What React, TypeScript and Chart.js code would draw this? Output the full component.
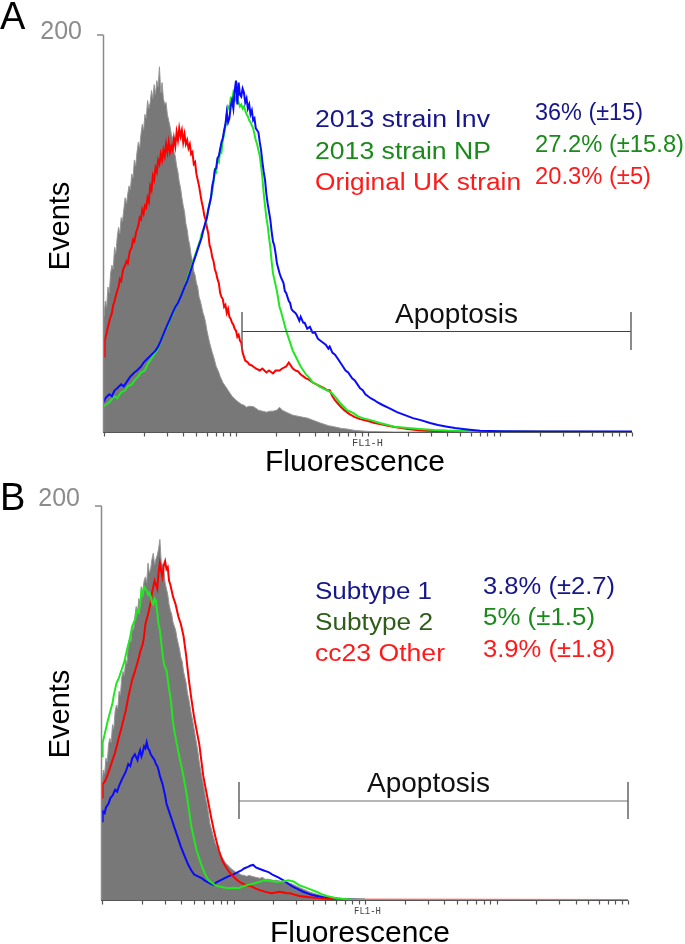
import React, { useEffect, useRef } from "react";
import { Chart, registerables } from "chart.js";

Chart.register(...registerables);

type Pt = [number, number];

// x = position on the FL1-H log axis in decades (0 -> 10^0 ... 4 -> 10^4), y = events
const grayA: Pt[] = [
  [0, 58], [0.01, 66], [0.02, 63], [0.03, 73], [0.04, 70], [0.05, 80], [0.06, 84], [0.07, 82], [0.08, 93],
  [0.09, 90], [0.1, 98], [0.11, 103], [0.12, 100], [0.13, 108], [0.14, 106], [0.15, 112], [0.16, 118],
  [0.17, 115], [0.18, 120], [0.19, 124], [0.2, 122], [0.21, 130], [0.22, 128], [0.23, 137], [0.24, 134],
  [0.25, 141], [0.26, 146], [0.27, 143], [0.28, 150], [0.29, 155], [0.3, 152], [0.31, 160], [0.32, 158],
  [0.33, 167], [0.34, 163], [0.35, 166], [0.36, 172], [0.37, 168], [0.38, 175], [0.39, 170], [0.4, 177],
  [0.41, 174], [0.42, 184], [0.43, 171], [0.44, 176], [0.45, 168], [0.46, 165], [0.47, 166], [0.48, 160],
  [0.49, 157], [0.5, 154], [0.51, 150], [0.52, 148], [0.53, 141], [0.54, 139], [0.55, 134], [0.56, 131],
  [0.57, 126], [0.58, 123], [0.59, 118], [0.6, 114], [0.61, 111], [0.62, 105], [0.63, 102], [0.64, 97],
  [0.65, 94], [0.66, 89], [0.67, 86], [0.68, 81], [0.69, 79], [0.7, 75], [0.71, 73], [0.72, 68], [0.73, 66],
  [0.74, 63], [0.75, 60], [0.76, 58], [0.77, 55], [0.78, 51], [0.79, 48], [0.8, 45], [0.82, 40], [0.83, 38],
  [0.85, 33], [0.87, 30], [0.88, 28], [0.9, 25], [0.92, 23], [0.94, 21], [0.97, 18], [1.0, 16], [1.02, 15],
  [1.04, 14], [1.06, 13.5], [1.08, 12.5], [1.1, 13], [1.13, 12.8], [1.15, 12], [1.17, 11], [1.2, 10.5],
  [1.23, 10], [1.26, 10.5], [1.28, 10.5], [1.31, 11], [1.33, 12.5], [1.35, 11], [1.38, 10], [1.43, 8.5],
  [1.5, 7.5], [1.54, 7], [1.6, 5.5], [1.64, 4.5], [1.7, 3.2], [1.74, 2.7], [1.8, 1.8], [1.84, 1.5],
  [1.9, 0.8], [2.0, 0.3], [2.2, 0], [4, 0],
];
const redA: Pt[] = [
  [0, 38], [0.005, 46], [0.02, 50], [0.03, 53], [0.045, 57], [0.06, 60], [0.07, 64], [0.08, 66], [0.095, 70],
  [0.11, 73], [0.12, 77], [0.13, 76], [0.145, 82], [0.16, 84], [0.17, 86], [0.18, 85], [0.195, 91], [0.21, 93],
  [0.22, 97], [0.23, 96], [0.245, 101], [0.26, 104], [0.27, 108], [0.28, 107], [0.29, 112], [0.3, 110],
  [0.31, 114], [0.32, 113], [0.33, 118], [0.34, 116], [0.35, 124], [0.36, 122], [0.37, 129], [0.38, 127],
  [0.39, 133], [0.4, 131], [0.41, 137], [0.42, 135], [0.43, 140], [0.44, 137], [0.45, 142], [0.46, 139],
  [0.47, 145], [0.48, 141], [0.49, 146], [0.5, 141], [0.51, 144], [0.52, 142], [0.53, 148], [0.54, 144],
  [0.55, 151], [0.56, 147], [0.57, 153], [0.58, 149], [0.59, 152], [0.6, 146], [0.61, 150], [0.62, 145],
  [0.63, 147], [0.64, 143], [0.65, 145], [0.66, 140], [0.67, 141], [0.68, 135], [0.69, 136], [0.7, 130],
  [0.71, 127], [0.72, 124], [0.73, 120], [0.74, 116], [0.75, 113], [0.76, 109], [0.77, 107], [0.78, 103],
  [0.79, 100], [0.8, 94], [0.81, 92], [0.82, 88], [0.83, 86], [0.84, 82], [0.85, 80], [0.86, 77], [0.87, 75],
  [0.88, 70], [0.89, 68], [0.9, 67], [0.91, 63], [0.92, 64], [0.93, 60], [0.94, 62], [0.95, 58], [0.96, 57],
  [0.97, 55], [0.98, 54], [0.99, 52], [1.0, 51], [1.01, 48], [1.02, 49], [1.03, 46], [1.04, 45], [1.05, 40],
  [1.06, 38], [1.07, 36], [1.09, 35], [1.1, 34], [1.12, 33.5], [1.13, 33], [1.15, 32], [1.18, 31], [1.2, 32],
  [1.23, 30], [1.25, 31], [1.28, 29.5], [1.3, 31], [1.33, 31], [1.35, 32], [1.38, 33], [1.4, 35], [1.41, 34],
  [1.43, 32], [1.45, 31], [1.47, 30.5], [1.49, 29], [1.51, 28], [1.53, 27], [1.55, 26.5], [1.58, 25],
  [1.61, 24], [1.64, 23], [1.67, 22], [1.69, 21], [1.71, 21], [1.73, 18], [1.75, 16], [1.77, 14.5],
  [1.79, 13], [1.82, 11], [1.86, 9], [1.9, 7.5], [1.94, 6.5], [2.0, 5.5], [2.05, 4.5], [2.09, 4], [2.15, 3.2],
  [2.2, 2.5], [2.3, 1.5], [2.4, 0.7], [2.6, 0.3], [4, 0],
];
const greenA: Pt[] = [
  [0, 13], [0.04, 15], [0.08, 18], [0.1, 17], [0.13, 20], [0.16, 21], [0.18, 23], [0.21, 24], [0.23, 26],
  [0.26, 28], [0.28, 30], [0.31, 31], [0.33, 34], [0.36, 37], [0.39, 40], [0.41, 42], [0.43, 46], [0.46, 51],
  [0.48, 53], [0.5, 57], [0.52, 59], [0.54, 63], [0.56, 65], [0.58, 68], [0.61, 73], [0.63, 77], [0.66, 83],
  [0.68, 87], [0.71, 93], [0.73, 97], [0.74, 100], [0.76, 103], [0.77, 105], [0.79, 112], [0.8, 115],
  [0.82, 121], [0.83, 126], [0.84, 132], [0.85, 131], [0.86, 137], [0.87, 136], [0.88, 142], [0.89, 141],
  [0.9, 147], [0.91, 150], [0.92, 154], [0.93, 160], [0.94, 164], [0.95, 163], [0.96, 168], [0.97, 167],
  [0.98, 171], [0.99, 169], [1.0, 167], [1.01, 168], [1.02, 166], [1.03, 164], [1.04, 165], [1.05, 163],
  [1.06, 164], [1.07, 162], [1.08, 160], [1.09, 159], [1.1, 157], [1.11, 156], [1.13, 153], [1.14, 150],
  [1.15, 147], [1.16, 145], [1.18, 139], [1.19, 134], [1.2, 128], [1.21, 120], [1.22, 114], [1.23, 108],
  [1.24, 104], [1.25, 98], [1.26, 93], [1.27, 86], [1.28, 80], [1.29, 77], [1.31, 71], [1.32, 67], [1.33, 63],
  [1.34, 61], [1.36, 56], [1.38, 51], [1.41, 45], [1.43, 41], [1.46, 37], [1.49, 33], [1.51, 31], [1.53, 29],
  [1.56, 27], [1.58, 25], [1.61, 24], [1.63, 23], [1.66, 22], [1.69, 21], [1.72, 20], [1.74, 18.5],
  [1.76, 17], [1.79, 14.5], [1.82, 12.5], [1.84, 11], [1.89, 9.5], [1.92, 8], [1.96, 7], [2.02, 6],
  [2.09, 4.5], [2.15, 3.5], [2.2, 2.7], [2.3, 2], [2.39, 1.5], [2.5, 1], [2.6, 0.7], [2.8, 0.4], [3, 0.2],
  [4, 0],
];
const blueA: Pt[] = [
  [0, 15], [0.01, 17], [0.04, 19], [0.06, 18], [0.08, 21], [0.1, 22], [0.13, 24], [0.15, 23], [0.18, 26],
  [0.2, 28], [0.23, 30], [0.25, 31], [0.28, 33], [0.3, 35], [0.33, 37], [0.36, 39], [0.39, 41], [0.41, 43],
  [0.43, 46], [0.46, 51], [0.48, 54], [0.5, 57], [0.52, 60], [0.54, 63], [0.56, 65], [0.58, 68], [0.61, 73],
  [0.63, 76], [0.65, 80], [0.67, 84], [0.69, 88], [0.71, 92], [0.72, 94], [0.74, 98], [0.75, 101],
  [0.77, 106], [0.78, 108], [0.79, 112], [0.81, 118], [0.82, 124], [0.83, 127], [0.84, 132], [0.85, 133],
  [0.86, 138], [0.87, 139], [0.89, 146], [0.9, 148], [0.91, 152], [0.92, 155], [0.93, 161], [0.94, 156],
  [0.95, 158], [0.96, 164], [0.97, 167], [0.98, 163], [0.99, 172], [1.0, 177], [1.01, 165], [1.02, 176],
  [1.03, 170], [1.04, 169], [1.05, 173], [1.06, 171], [1.07, 166], [1.08, 168], [1.09, 163], [1.1, 165],
  [1.11, 160], [1.12, 162], [1.13, 157], [1.14, 158], [1.15, 153], [1.17, 151], [1.18, 146], [1.19, 142],
  [1.2, 136], [1.21, 131], [1.22, 127], [1.23, 120], [1.24, 115], [1.25, 111], [1.26, 107], [1.27, 101],
  [1.28, 96], [1.29, 94], [1.3, 90], [1.31, 85], [1.33, 80], [1.34, 78], [1.36, 75], [1.37, 71], [1.38, 70],
  [1.4, 66], [1.41, 65], [1.42, 62], [1.43, 61], [1.45, 60], [1.46, 59], [1.48, 56], [1.49, 58], [1.51, 55],
  [1.52, 55], [1.54, 52], [1.56, 53], [1.58, 50], [1.6, 50], [1.62, 47], [1.64, 46], [1.66, 45], [1.68, 44],
  [1.7, 42], [1.71, 43], [1.73, 40], [1.75, 39], [1.77, 37], [1.79, 35], [1.81, 33], [1.83, 31], [1.85, 30],
  [1.86, 29], [1.88, 27], [1.9, 26], [1.92, 24], [1.94, 22], [1.96, 21], [1.98, 19], [2.0, 18], [2.02, 17],
  [2.05, 16], [2.07, 15], [2.11, 13.6], [2.16, 12], [2.22, 10], [2.28, 8.5], [2.34, 7], [2.4, 6],
  [2.47, 4.5], [2.53, 3.5], [2.6, 2.7], [2.66, 2], [2.72, 1.5], [2.79, 1], [2.85, 0.6], [3, 0.4],
  [3.3, 0.3], [4, 0.3],
];

const grayB: Pt[] = [
  [0, 58], [0.01, 66], [0.02, 64], [0.03, 72], [0.04, 70], [0.05, 79], [0.06, 82], [0.07, 80], [0.08, 89],
  [0.09, 87], [0.1, 96], [0.11, 99], [0.12, 97], [0.13, 106], [0.14, 104], [0.15, 113], [0.16, 116],
  [0.17, 114], [0.18, 122], [0.19, 120], [0.2, 130], [0.21, 133], [0.22, 131], [0.23, 139], [0.24, 137],
  [0.25, 144], [0.26, 149], [0.27, 146], [0.28, 153], [0.29, 151], [0.3, 159], [0.31, 156], [0.32, 162],
  [0.33, 164], [0.34, 161], [0.35, 171], [0.36, 166], [0.37, 168], [0.38, 173], [0.39, 176], [0.4, 170],
  [0.41, 173], [0.42, 175], [0.43, 178], [0.44, 183], [0.45, 172], [0.46, 170], [0.47, 168], [0.48, 161],
  [0.49, 158], [0.5, 155], [0.51, 150], [0.52, 147], [0.53, 145], [0.54, 141], [0.55, 139], [0.56, 137],
  [0.57, 133], [0.58, 130], [0.59, 127], [0.6, 123], [0.61, 121], [0.62, 116], [0.63, 113], [0.64, 110],
  [0.65, 105], [0.66, 102], [0.67, 98], [0.68, 94], [0.69, 91], [0.7, 87], [0.71, 83], [0.72, 79],
  [0.73, 75], [0.74, 70], [0.75, 66], [0.76, 62], [0.77, 59], [0.78, 55], [0.79, 51], [0.8, 48], [0.81, 44],
  [0.82, 39], [0.84, 34], [0.86, 29], [0.88, 26], [0.9, 23], [0.92, 21], [0.94, 18.6], [0.96, 17.5],
  [0.98, 16], [1.0, 15], [1.02, 14], [1.04, 13.5], [1.06, 12.7], [1.08, 12.5], [1.1, 12], [1.12, 12.5],
  [1.14, 12], [1.17, 11.5], [1.2, 11], [1.22, 11.5], [1.24, 10.5], [1.27, 10.5], [1.3, 10], [1.33, 10],
  [1.36, 9.5], [1.41, 9], [1.45, 8], [1.48, 7], [1.53, 5.5], [1.58, 4], [1.63, 3], [1.68, 2], [1.73, 1.5],
  [1.79, 1], [1.85, 0.5], [1.95, 0.2], [2.05, 0], [4, 0],
];
const blueB: Pt[] = [
  [0, 40], [0.005, 45], [0.02, 44], [0.03, 47], [0.05, 49], [0.065, 52], [0.08, 53], [0.1, 56], [0.115, 55],
  [0.13, 58], [0.15, 61], [0.165, 63], [0.18, 65], [0.2, 69], [0.215, 68], [0.23, 72], [0.25, 74], [0.27, 71],
  [0.28, 74], [0.29, 76], [0.3, 73], [0.31, 75], [0.32, 78], [0.33, 77], [0.34, 80], [0.35, 77], [0.36, 76],
  [0.37, 74], [0.38, 73], [0.39, 72], [0.4, 71], [0.41, 69], [0.42, 68], [0.43, 66], [0.44, 63], [0.45, 61],
  [0.46, 59], [0.48, 53], [0.49, 49], [0.51, 45], [0.53, 41], [0.555, 36], [0.58, 31], [0.6, 27], [0.63, 22],
  [0.655, 18], [0.68, 15], [0.7, 13], [0.73, 12], [0.76, 11], [0.78, 10], [0.82, 8.5], [0.85, 7.6], [0.87, 9],
  [0.9, 10], [0.93, 11], [0.96, 12], [1.0, 13], [1.04, 14.4], [1.06, 15], [1.08, 16], [1.11, 16.8],
  [1.13, 17.5], [1.15, 17.8], [1.17, 16.5], [1.19, 16], [1.21, 15.5], [1.23, 15], [1.25, 14.5], [1.27, 14],
  [1.3, 12.7], [1.34, 11.5], [1.38, 10], [1.41, 8.5], [1.45, 6.8], [1.49, 5.5], [1.53, 4.2], [1.6, 2.5],
  [1.68, 1.4], [1.76, 0.7], [1.9, 0.3], [2.0, 0.1], [4, 0],
];
const greenB: Pt[] = [
  [0, 73], [0.005, 80], [0.02, 84], [0.04, 90], [0.06, 95], [0.08, 100], [0.09, 104], [0.11, 110],
  [0.13, 113], [0.15, 117], [0.17, 121], [0.19, 127], [0.21, 132], [0.23, 139], [0.25, 142], [0.27, 147],
  [0.28, 146], [0.29, 150], [0.3, 157], [0.31, 155], [0.32, 159], [0.33, 158], [0.34, 157], [0.35, 155],
  [0.36, 156], [0.37, 154], [0.38, 151], [0.39, 150], [0.4, 153], [0.41, 152], [0.42, 146], [0.43, 140],
  [0.44, 137], [0.45, 131], [0.46, 125], [0.47, 120], [0.48, 118], [0.49, 117], [0.5, 112], [0.51, 107],
  [0.52, 103], [0.53, 97], [0.54, 90], [0.55, 86], [0.57, 79], [0.59, 72], [0.61, 66], [0.63, 59],
  [0.65, 51], [0.665, 44], [0.68, 37], [0.7, 31], [0.72, 25], [0.74, 21], [0.76, 17], [0.785, 13],
  [0.81, 10], [0.84, 8.5], [0.86, 7.5], [0.89, 6.8], [0.93, 6.3], [0.96, 6], [1.0, 6.2], [1.04, 6],
  [1.07, 6.8], [1.1, 7.5], [1.13, 8], [1.16, 8.5], [1.2, 9.3], [1.23, 10], [1.27, 9.8], [1.3, 9.5],
  [1.33, 9.1], [1.36, 9.3], [1.39, 9.6], [1.42, 10], [1.44, 9.6], [1.46, 9.3], [1.48, 8.3], [1.5, 7.5],
  [1.53, 6.8], [1.58, 5.5], [1.63, 4.2], [1.67, 3], [1.71, 2], [1.79, 0.8], [1.9, 0.3], [2.0, 0.1], [4, 0],
];
const redB: Pt[] = [
  [0, 52], [0.005, 59], [0.02, 60], [0.04, 63], [0.06, 67], [0.08, 71], [0.1, 75], [0.13, 83], [0.15, 88],
  [0.18, 96], [0.2, 103], [0.23, 112], [0.25, 116], [0.28, 123], [0.29, 126], [0.31, 130], [0.32, 134],
  [0.33, 140], [0.35, 145], [0.37, 151], [0.38, 156], [0.4, 162], [0.41, 160], [0.42, 158], [0.43, 166],
  [0.44, 171], [0.45, 167], [0.46, 164], [0.47, 170], [0.48, 172], [0.49, 168], [0.5, 169], [0.51, 162],
  [0.52, 160], [0.53, 157], [0.54, 154], [0.56, 150], [0.58, 144], [0.6, 140], [0.62, 134], [0.63, 129],
  [0.64, 124], [0.65, 118], [0.66, 112], [0.68, 102], [0.7, 93], [0.72, 86], [0.74, 79], [0.755, 71],
  [0.77, 63], [0.79, 56], [0.81, 49], [0.83, 42], [0.85, 35.5], [0.87, 30], [0.89, 25], [0.915, 20],
  [0.94, 17], [0.965, 14.5], [0.99, 12.5], [1.02, 10.5], [1.05, 9], [1.08, 8], [1.1, 7.5], [1.14, 6.8],
  [1.17, 5.8], [1.2, 5], [1.25, 4], [1.29, 3.4], [1.32, 3.8], [1.35, 4.2], [1.38, 3.8], [1.4, 3.6],
  [1.43, 3.4], [1.47, 2.6], [1.5, 2], [1.58, 1.4], [1.68, 0.7], [1.8, 0.3], [2.0, 0.1], [4, 0],
];

const legendA = ["2013 strain Inv", "2013 strain NP", "Original UK strain"];
const valuesA = ["36% (\u00b115)", "27.2% (\u00b115.8)", "20.3% (\u00b15)"];
const legendB = ["Subtype 1", "Subtype 2", "cc23 Other"];
const valuesB = ["3.8% (\u00b12.7)", "5% (\u00b11.5)", "3.9% (\u00b11.8)"];
const yTopLabel = "200";
const yMax = 200;
const xDecades = [0, 1, 2, 3, 4];
const minorMultipliers = [1, 2, 3, 4, 5, 6, 7, 8, 9];

const NAVY = "#16168a";
const GREEN = "#1a8a1a";
const OLIVE = "#2f5c18";
const RED = "#ff1a1a";
const LINE_BLUE = "#0a0aff";
const LINE_GREEN = "#22e622";
const LINE_RED = "#ff0000";
const FILL_GRAY = "#787878";

const SANS = '"Liberation Sans", Arial, Helvetica, sans-serif';
const MONO = '"Liberation Mono", "DejaVu Sans Mono", monospace';

interface TextItem {
  text: string;
  x: number;
  y: number;
  size: number;
  color: string;
  width?: number;
  align?: "left" | "center" | "right";
  font?: string;
}

interface PanelSpec {
  pageTop: number;
  area: { left: number; right: number; top: number; bottom: number };
  series: { data: Pt[]; color: string; gray?: boolean }[];
  texts: TextItem[];
  eventsCenter: number;
  bracket: { x1: number; x2: number; y: number; y1: number; y2: number; color: string };
}

const panelA: PanelSpec = {
  pageTop: 0,
  area: { left: 104, right: 632, top: 35, bottom: 432 },
  series: [
    { data: blueA, color: LINE_BLUE },
    { data: greenA, color: LINE_GREEN },
    { data: redA, color: LINE_RED },
    { data: grayA, color: FILL_GRAY, gray: true },
  ],
  eventsCenter: 226,
  bracket: { x1: 242, x2: 631, y: 331.5, y1: 312, y2: 350, color: "#3c3c64" },
  texts: [
    { text: "A", x: 0, y: 29, size: 38, color: "#000" },
    { text: yTopLabel, x: 82, y: 39, size: 25, color: "#8c8c8c", align: "right" },
    { text: legendA[0], x: 315, y: 127, size: 23, color: NAVY, width: 175 },
    { text: legendA[1], x: 315, y: 158.5, size: 23, color: GREEN, width: 176 },
    { text: legendA[2], x: 315, y: 190, size: 23, color: RED, width: 206 },
    { text: valuesA[0], x: 535, y: 120, size: 23, color: NAVY, width: 108 },
    { text: valuesA[1], x: 535, y: 152, size: 23, color: GREEN, width: 149 },
    { text: valuesA[2], x: 535, y: 183.5, size: 23, color: RED, width: 116 },
    { text: "Apoptosis", x: 395, y: 323, size: 28, color: "#111", width: 123 },
    { text: "FL1-H", x: 352, y: 446, size: 10, color: "#444", font: MONO, width: 31 },
    { text: "Fluorescence", x: 355, y: 471, size: 30, color: "#000", align: "center", width: 180 },
  ],
};

const panelB: PanelSpec = {
  pageTop: 472,
  area: { left: 102, right: 628, top: 506, bottom: 900 },
  series: [
    { data: greenB, color: LINE_GREEN },
    { data: redB, color: LINE_RED },
    { data: blueB, color: LINE_BLUE },
    { data: grayB, color: FILL_GRAY, gray: true },
  ],
  eventsCenter: 714,
  bracket: { x1: 239, x2: 628, y: 801, y1: 782, y2: 819, color: "#707070" },
  texts: [
    { text: "B", x: 0, y: 510, size: 38, color: "#000" },
    { text: yTopLabel, x: 80, y: 506, size: 25, color: "#8c8c8c", align: "right" },
    { text: legendB[0], x: 315, y: 598.5, size: 23, color: NAVY, width: 117 },
    { text: legendB[1], x: 315, y: 630, size: 23, color: OLIVE, width: 118 },
    { text: legendB[2], x: 315, y: 660.5, size: 23, color: RED, width: 130 },
    { text: valuesB[0], x: 483, y: 593.5, size: 23, color: NAVY, width: 132 },
    { text: valuesB[1], x: 483, y: 625, size: 23, color: GREEN, width: 112 },
    { text: valuesB[2], x: 483, y: 657, size: 23, color: RED, width: 132 },
    { text: "Apoptosis", x: 367, y: 792, size: 28, color: "#111", width: 123 },
    { text: "FL1-H", x: 354, y: 914, size: 10, color: "#444", font: MONO, width: 27 },
    { text: "Fluorescence", x: 360, y: 942, size: 30, color: "#000", align: "center", width: 180 },
  ],
};

function drawText(ctx: CanvasRenderingContext2D, t: TextItem, dy: number) {
  ctx.save();
  ctx.font = `${t.size}px ${t.font ?? SANS}`;
  ctx.fillStyle = t.color;
  ctx.textBaseline = "alphabetic";
  ctx.textAlign = "left";
  const w = ctx.measureText(t.text).width;
  const sx = t.width ? t.width / w : 1;
  const dw = w * sx;
  let left = t.x;
  if (t.align === "center") left = t.x - dw / 2;
  else if (t.align === "right") left = t.x - dw;
  ctx.translate(left, t.y - dy);
  ctx.scale(sx, 1);
  ctx.fillText(t.text, 0, 0);
  ctx.restore();
}

function makeDecorPlugin(spec: PanelSpec) {
  return {
    id: "decor",
    afterDraw(chart: any) {
      const ctx: CanvasRenderingContext2D = chart.ctx;
      const xs = chart.scales.x;
      const ys = chart.scales.y;
      const dy = spec.pageTop;
      const left = xs.getPixelForValue(0);
      const right = xs.getPixelForValue(4);
      const top = ys.getPixelForValue(yMax);
      const bottom = ys.getPixelForValue(0);
      ctx.save();
      // y axis
      ctx.strokeStyle = "#8a8a8a";
      ctx.lineWidth = 1.5;
      ctx.beginPath();
      ctx.moveTo(left - 0.5, top);
      ctx.lineTo(left - 0.5, bottom);
      ctx.moveTo(left - 7, top);
      ctx.lineTo(left - 0.5, top);
      ctx.stroke();
      // x axis with log ticks
      ctx.strokeStyle = "#555";
      ctx.lineWidth = 1.2;
      ctx.beginPath();
      ctx.moveTo(left - 1, bottom + 0.5);
      ctx.lineTo(right, bottom + 0.5);
      const tickPositions: number[] = [];
      xDecades.slice(0, 4).forEach((d) => minorMultipliers.forEach((m) => tickPositions.push(d + Math.log10(m))));
      tickPositions.push(xDecades[4]);
      tickPositions.forEach((v) => {
        const px = Math.round(xs.getPixelForValue(v)) + 0.5;
        ctx.moveTo(px, bottom + 0.5);
        ctx.lineTo(px, bottom + 4.5);
      });
      ctx.stroke();
      // apoptosis bracket
      const b = spec.bracket;
      ctx.strokeStyle = b.color;
      ctx.lineWidth = 1.2;
      ctx.beginPath();
      ctx.moveTo(b.x1, b.y - dy);
      ctx.lineTo(b.x2, b.y - dy);
      ctx.stroke();
      ctx.strokeStyle = "#666";
      ctx.lineWidth = 1.5;
      ctx.beginPath();
      ctx.moveTo(b.x1, b.y1 - dy);
      ctx.lineTo(b.x1, b.y2 - dy);
      ctx.moveTo(b.x2, b.y1 - dy);
      ctx.lineTo(b.x2, b.y2 - dy);
      ctx.stroke();
      ctx.restore();
      // texts
      spec.texts.forEach((t) => drawText(ctx, t, dy));
      // rotated Events
      ctx.save();
      ctx.font = `29px ${SANS}`;
      ctx.fillStyle = "#000";
      ctx.textAlign = "center";
      ctx.textBaseline = "alphabetic";
      ctx.translate(69, spec.eventsCenter - dy);
      ctx.rotate(-Math.PI / 2);
      ctx.fillText("Events", 0, 0);
      ctx.restore();
    },
  };
}

function Panel({ spec }: { spec: PanelSpec }) {
  const ref = useRef<HTMLCanvasElement | null>(null);
  useEffect(() => {
    if (!ref.current) return;
    const H = 472;
    const W = 685;
    const a = spec.area;
    const chart = new Chart(ref.current, {
      type: "line",
      data: {
        datasets: spec.series.map((s) => ({
          data: s.data.map(([x, y]) => ({ x, y })),
          borderColor: s.gray ? "#959595" : s.color,
          backgroundColor: s.gray ? s.color : "transparent",
          borderWidth: s.gray ? 1 : 2,
          fill: s.gray ? "origin" : false,
          pointRadius: 0,
          tension: 0,
        })),
      },
      options: {
        animation: false,
        responsive: false,
        maintainAspectRatio: false,
        devicePixelRatio: 1,
        layout: {
          padding: {
            left: a.left,
            right: W - a.right,
            top: a.top - spec.pageTop,
            bottom: H - (a.bottom - spec.pageTop),
          },
        },
        scales: {
          x: { type: "linear", min: 0, max: 4, display: false },
          y: { type: "linear", min: 0, max: yMax, display: false },
        },
        plugins: { legend: { display: false }, tooltip: { enabled: false } },
      },
      plugins: [makeDecorPlugin(spec)],
    } as any);
    return () => chart.destroy();
  }, [spec]);
  return (
    <canvas
      ref={ref}
      width={685}
      height={472}
      style={{ position: "absolute", left: 0, top: spec.pageTop, width: 685, height: 472 }}
    />
  );
}

export default function App() {
  return (
    <div style={{ position: "absolute", left: 0, top: 0, width: 685, height: 944, background: "#fff" }}>
      <Panel spec={panelA} />
      <Panel spec={panelB} />
    </div>
  );
}
